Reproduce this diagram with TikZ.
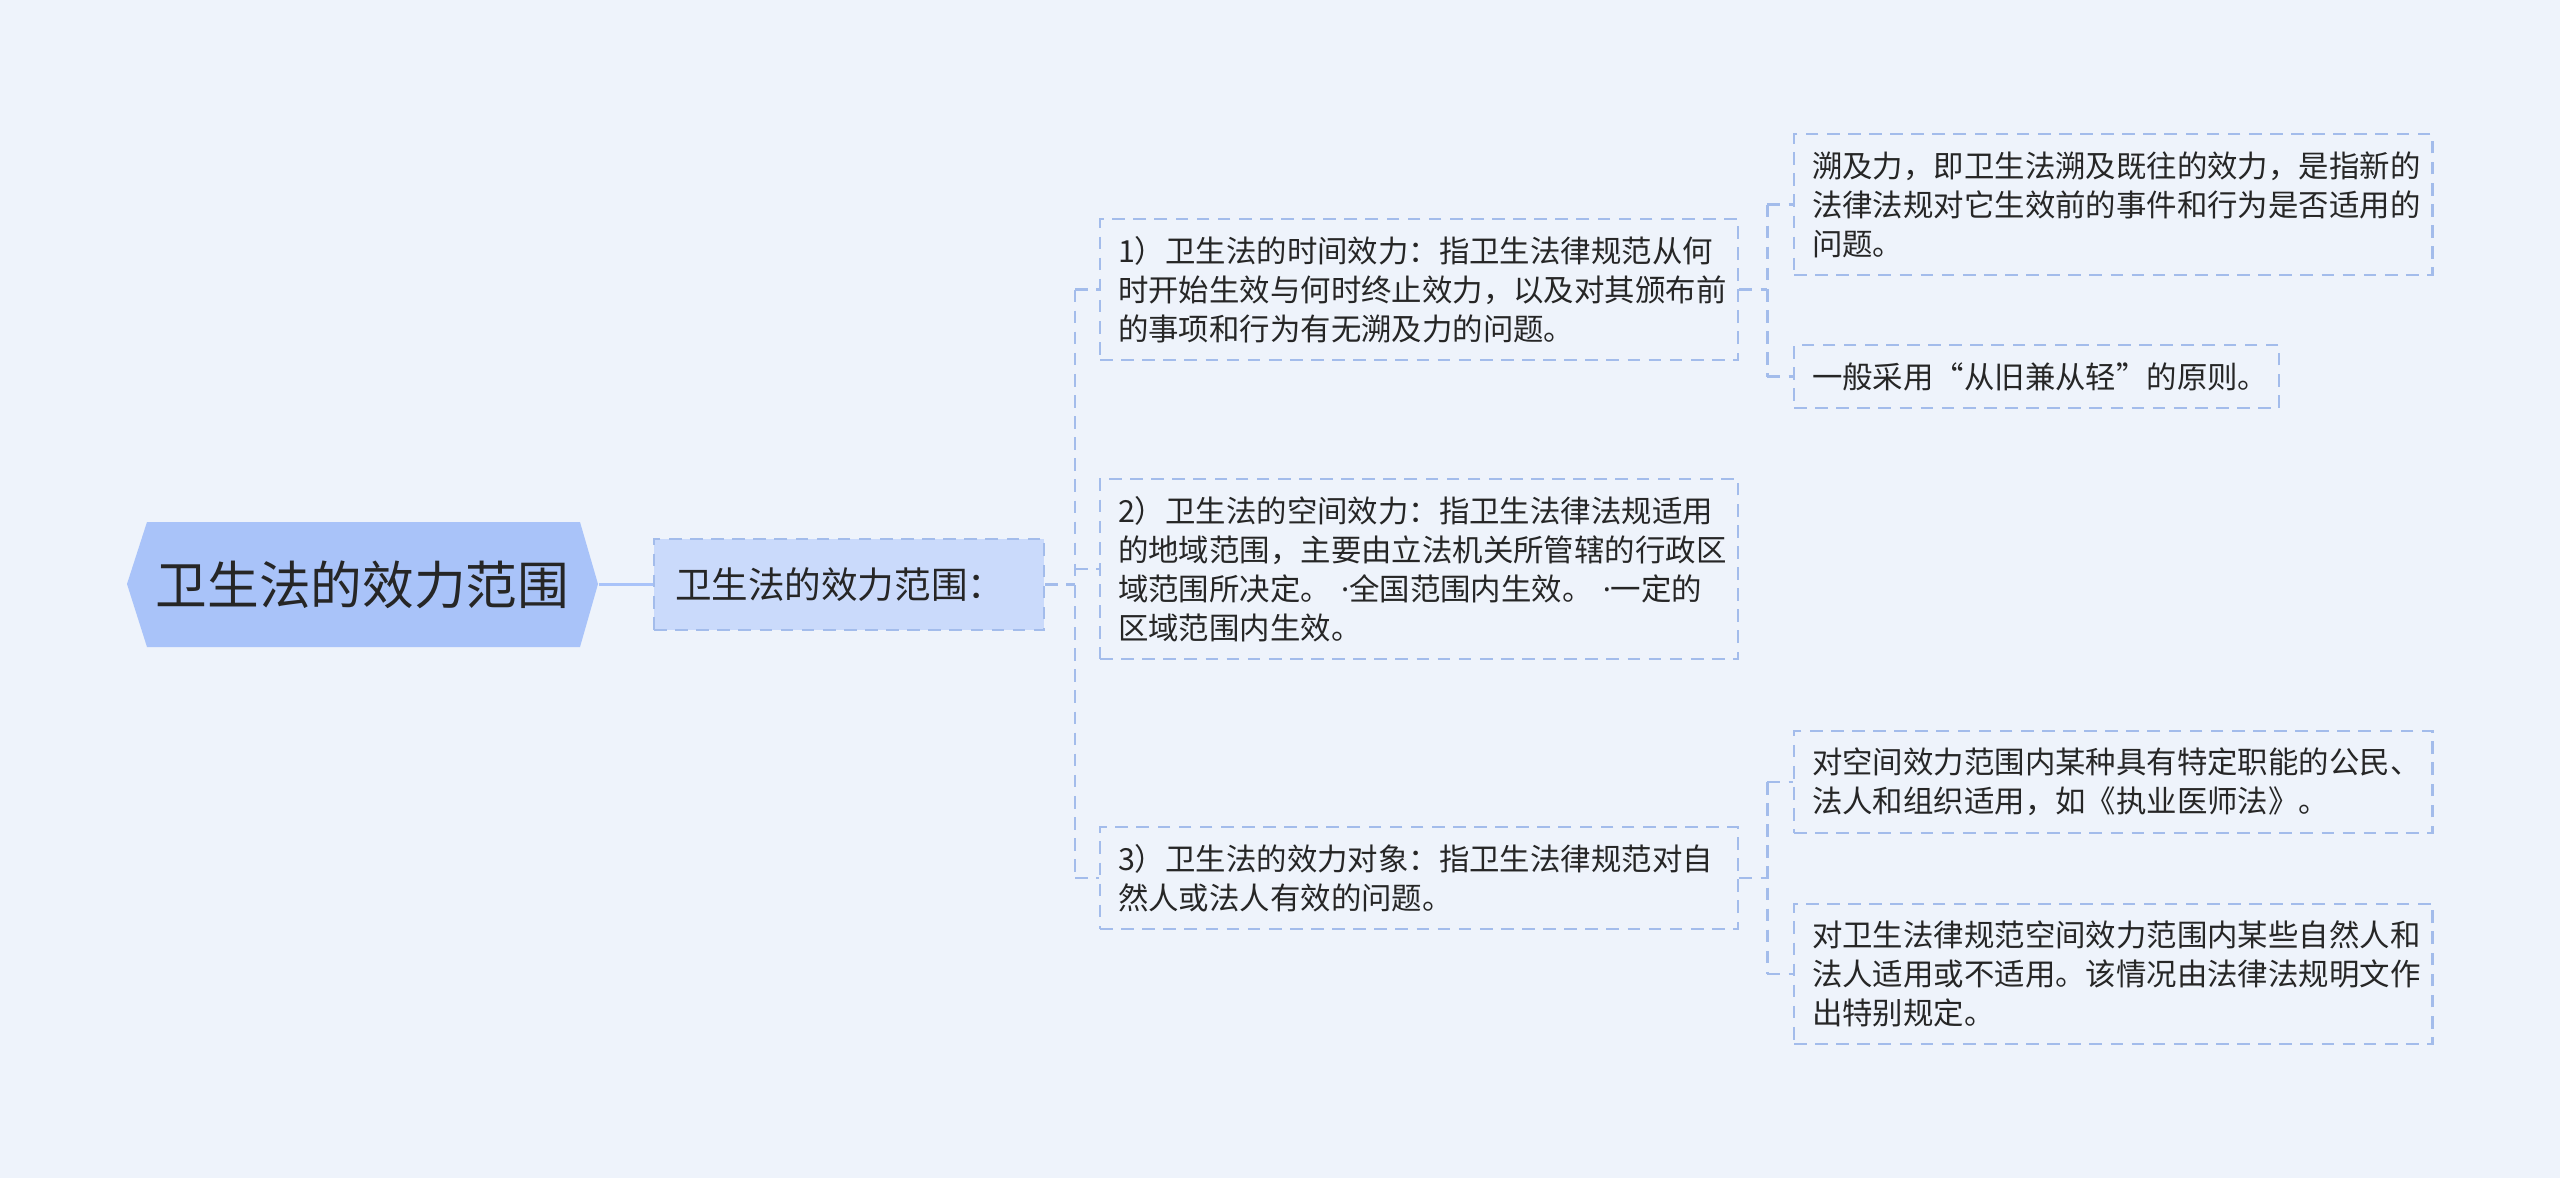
\documentclass[tikz,border=0pt]{standalone}
\usepackage{fontspec}
\setmainfont{Noto Sans CJK SC}
\newfontfamily\dotfont{Noto Sans}
\newcommand{\middot}{{\dotfont ·}}
\definecolor{bgBlue}{HTML}{EEF3FB}
\definecolor{rootBlue}{HTML}{A9C3F9}
\definecolor{subBlue}{HTML}{CADAFB}
\definecolor{lineBlue}{HTML}{A3BCEB}
\definecolor{inkDark}{HTML}{262626}
\usetikzlibrary{calc,positioning}

\tikzset{
  leafbox/.style={draw=lineBlue, line width=0.6pt, dash pattern=on 3.6pt off 2.4pt,
    anchor=west, align=left, text width=6.02cm, inner xsep=0.18cm, inner ysep=0.17cm,
    font=\fontsize{8.65pt}{11.1pt}\selectfont, text=inkDark},
  link/.style={lineBlue, line width=0.6pt, dash pattern=on 3.6pt off 2.4pt},
}

\begin{document}
\begin{tikzpicture}[x=0.01cm, y=-0.01cm]
  \useasboundingbox (0,0) rectangle (2560,1178);
  \fill[bgBlue] (0,0) rectangle (2560,1178);

  % root
  \fill[rootBlue] (127,584) -- (147,522) -- (580,522) -- (598,584) -- (580,647) -- (147,647) -- cycle;
  \node (root) [minimum width=4.71cm, minimum height=1.25cm, text=inkDark,
    font=\fontsize{14.7pt}{18pt}\selectfont] at (362.5,584.5) {卫生法的效力范围};

  \node (sub) [draw=lineBlue, fill=subBlue, line width=0.6pt, dash pattern=on 3.6pt off 2.4pt,
    anchor=west, align=left, text width=3.48cm, inner xsep=0.21cm, minimum height=0.91cm,
    text=inkDark, font=\fontsize{10.4pt}{12pt}\selectfont] at (653,584.5) {卫生法的效力范围：};

  % second level
  \node (time) [leafbox] at (1099,289.5) {1）卫生法的时间效力：指卫生法律规范从何\\时开始生效与何时终止效力，以及对其颁布前\\的事项和行为有无溯及力的问题。};
  \node (space) [leafbox] at (1099,569) {2）卫生法的空间效力：指卫生法律法规适用\\的地域范围，主要由立法机关所管辖的行政区\\域范围所决定。~\middot 全国范围内生效。~\middot 一定的\\区域范围内生效。};
  \node (object) [leafbox] at (1099,878) {3）卫生法的效力对象：指卫生法律规范对自\\然人或法人有效的问题。};

  % third level
  \node (retro) [leafbox] at (1793,204.5) {溯及力，即卫生法溯及既往的效力，是指新的\\法律法规对它生效前的事件和行为是否适用的\\问题。};
  \node (rule) [leafbox, text width=4.49cm] at (1793,376.5) {一般采用“从旧兼从轻”的原则。};
  \node (special) [leafbox] at (1793,782) {对空间效力范围内某种具有特定职能的公民、\\法人和组织适用，如《执业医师法》。};
  \node (partial) [leafbox] at (1793,974) {对卫生法律规范空间效力范围内某些自然人和\\法人适用或不适用。该情况由法律法规明文作\\出特别规定。};

  % connectors
  \draw[rootBlue, line width=0.9pt] (root.east) -- (sub.west);

  \draw[link] (sub.east) -- ++(30,0) coordinate (busA);
  \draw[link] (busA |- time.west) -- (busA |- object.west);
  \foreach \n in {time,space,object}
    \draw[link] (busA |- \n.west) -- (\n.west);

  \draw[link] (time.east) -- ++(28,0) coordinate (busB);
  \draw[link] (busB |- retro.west) -- (busB |- rule.west);
  \foreach \n in {retro,rule}
    \draw[link] (busB |- \n.west) -- (\n.west);

  \draw[link] (object.east) -- ++(28,0) coordinate (busC);
  \draw[link] (busC |- special.west) -- (busC |- partial.west);
  \foreach \n in {special,partial}
    \draw[link] (busC |- \n.west) -- (\n.west);
\end{tikzpicture}
\end{document}
